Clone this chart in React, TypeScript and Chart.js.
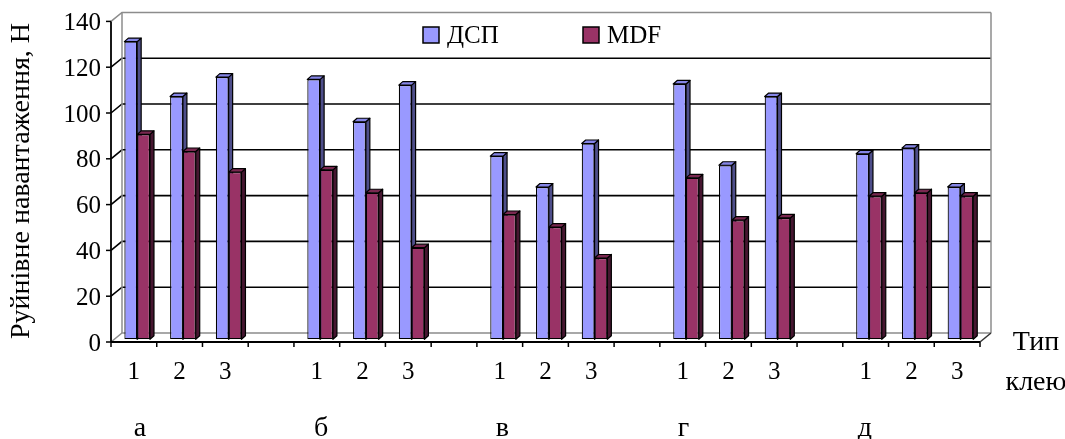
import React, { useEffect, useRef } from 'react';
import { Chart, registerables } from 'chart.js';

Chart.register(...registerables);

// ---------- data ----------
const categories = ['1', '2', '3', '', '1', '2', '3', '', '1', '2', '3', '', '1', '2', '3', '', '1', '2', '3'];
const groupLabels = ['а', 'б', 'в', 'г', 'д'];
const seriesNames = ['ДСП', 'MDF'];
const dspValues = [130, 106, 114.5, null, 113.5, 95, 111, null, 80, 66.5, 85.5, null, 111.5, 76, 106, null, 81, 83.5, 66.5];
const mdfValues = [89.5, 82, 73, null, 74, 64, 40, null, 54.5, 49, 35.5, null, 70.5, 52, 53, null, 62.5, 64, 62.5];
const yTicks = [0, 20, 40, 60, 80, 100, 120, 140];
const yTitle = 'Руйнівне навантаження, Н';
const xTitleLines = ['Тип', 'клею'];

// ---------- layout / style ----------
const W = 1065;
const H = 439;
const PLANE = { left: 114.3, right: 983.3, top: 18.7, bottom: 339.3 };
const FRONT = { dx: -3.3, dy: 2.7 };
const BACK = { dx: 7.7, dy: -6.3 };
const BAR_DEPTH = { dx: 4, dy: 3.5 };
const SERIF = '"Liberation Serif", "Times New Roman", serif';
const FONT_TICK = '25px ' + SERIF;
const FONT_CAT = '25px ' + SERIF;
const FONT_TITLE = '28px ' + SERIF;
const FONT_LEGEND = '25px ' + SERIF;
const FRONT_COLORS = ['#9999FF', '#993366'];
const SIDE_COLORS = ['#4E4E8A', '#461630'];
const TOP_COLORS = ['#8585E6', '#7A2850'];
const EDGE_GRAY = '#8C8C8C';
const LEGEND = { y: 27, box: 16, xs: [423, 583], textGap: 24 };

function line(ctx: CanvasRenderingContext2D, x1: number, y1: number, x2: number, y2: number) {
  ctx.beginPath();
  ctx.moveTo(x1, y1);
  ctx.lineTo(x2, y2);
  ctx.stroke();
}

function poly(ctx: CanvasRenderingContext2D, pts: number[][], fill: string) {
  ctx.beginPath();
  ctx.moveTo(pts[0][0], pts[0][1]);
  for (let i = 1; i < pts.length; i++) ctx.lineTo(pts[i][0], pts[i][1]);
  ctx.closePath();
  ctx.fillStyle = fill;
  ctx.fill();
  ctx.stroke();
}

const threeD = {
  id: 'threeD',
  beforeDatasetsDraw(chart: any) {
    const { ctx, chartArea: ca, scales } = chart;
    const ys = scales.y;
    const fl = ca.left + FRONT.dx;
    const fr = ca.right + FRONT.dx;
    const bl = ca.left + BACK.dx;
    const br = ca.right + BACK.dx;
    ctx.save();
    // walls & grid
    yTicks.forEach((v, i) => {
      const yp = ys.getPixelForValue(v);
      const fy = yp + FRONT.dy;
      const by = yp + BACK.dy;
      const edge = i === 0 || i === yTicks.length - 1;
      ctx.strokeStyle = edge ? EDGE_GRAY : '#000';
      ctx.lineWidth = edge ? 1.5 : 1.6;
      ctx.beginPath();
      ctx.moveTo(fl, fy);
      ctx.lineTo(bl, by);
      ctx.lineTo(br, by);
      ctx.stroke();
    });
    const topB = ys.getPixelForValue(yTicks[yTicks.length - 1]) + BACK.dy;
    const botB = ys.getPixelForValue(0) + BACK.dy;
    const botF = ys.getPixelForValue(0) + FRONT.dy;
    ctx.strokeStyle = EDGE_GRAY;
    ctx.lineWidth = 1.5;
    line(ctx, bl, topB, bl, botB);
    line(ctx, br, topB, br, botB);
    ctx.strokeStyle = '#333';
    line(ctx, fr, botF, br, botB);

    // bar side & top faces
    ctx.strokeStyle = '#000';
    ctx.lineWidth = 1.2;
    ctx.lineJoin = 'round';
    chart.data.datasets.forEach((ds: any, di: number) => {
      const meta = chart.getDatasetMeta(di);
      meta.data.forEach((el: any, i: number) => {
        if (ds.data[i] == null) return;
        const { x, y, base, width } = el.getProps(['x', 'y', 'base', 'width'], true);
        const l = x - width / 2;
        const r = x + width / 2;
        const dx = BAR_DEPTH.dx;
        const dy = BAR_DEPTH.dy;
        poly(ctx, [[r, y], [r + dx, y - dy], [r + dx, base - dy], [r, base]], SIDE_COLORS[di]);
        poly(ctx, [[l, y], [l + dx, y - dy], [r + dx, y - dy], [r, y]], TOP_COLORS[di]);
      });
    });
    ctx.restore();
  },
  afterDraw(chart: any) {
    const { ctx, chartArea: ca, scales } = chart;
    const ys = scales.y;
    const xs = scales.x;
    const fl = ca.left + FRONT.dx;
    const fr = ca.right + FRONT.dx;
    const fy0 = ys.getPixelForValue(0) + FRONT.dy;
    const fyTop = ys.getPixelForValue(yTicks[yTicks.length - 1]) + FRONT.dy;
    const slot = (ca.right - ca.left) / categories.length;
    ctx.save();
    ctx.strokeStyle = '#000';
    ctx.lineWidth = 1.8;
    line(ctx, fl, fyTop, fl, fy0);
    line(ctx, fl, fy0, fr, fy0);
    ctx.lineWidth = 1.5;
    // y ticks + labels
    ctx.font = FONT_TICK;
    ctx.fillStyle = '#000';
    ctx.textAlign = 'right';
    ctx.textBaseline = 'alphabetic';
    yTicks.forEach((v) => {
      const fy = ys.getPixelForValue(v) + FRONT.dy;
      line(ctx, fl - 5, fy, fl, fy);
      ctx.fillText(String(v), fl - 10, fy + 8.5);
    });
    // x ticks + labels
    for (let i = 0; i <= categories.length; i++) {
      const xb = ca.left + i * slot + FRONT.dx;
      line(ctx, xb, fy0, xb, fy0 + 5);
    }
    ctx.textAlign = 'center';
    ctx.font = FONT_CAT;
    categories.forEach((c, i) => {
      if (!c) return;
      const xc = xs.getPixelForValue(i) + FRONT.dx;
      ctx.fillText(c, xc, 379);
    });
    ctx.font = FONT_TITLE;
    groupLabels.forEach((g, gi) => {
      const xc = xs.getPixelForValue(gi * 4) + FRONT.dx + 6 - 1.7 * gi;
      ctx.fillText(g, xc, 436);
    });
    // x title
    ctx.fillText(xTitleLines[0], 1036, 350);
    ctx.fillText(xTitleLines[1], 1036, 390);
    // y title
    ctx.save();
    ctx.translate(22, 181);
    ctx.rotate(-Math.PI / 2);
    ctx.textAlign = 'center';
    ctx.textBaseline = 'middle';
    ctx.fillText(yTitle, 0, 0);
    ctx.restore();
    // legend
    ctx.font = FONT_LEGEND;
    ctx.textAlign = 'left';
    ctx.textBaseline = 'alphabetic';
    ctx.lineWidth = 1.5;
    seriesNames.forEach((name, i) => {
      const bx = LEGEND.xs[i];
      ctx.fillStyle = FRONT_COLORS[i];
      ctx.fillRect(bx, LEGEND.y, LEGEND.box, LEGEND.box);
      ctx.strokeStyle = '#000';
      ctx.strokeRect(bx, LEGEND.y, LEGEND.box, LEGEND.box);
      ctx.fillStyle = '#000';
      ctx.fillText(name, bx + LEGEND.textGap, LEGEND.y + 16);
    });
    ctx.restore();
  },
};

export default function App() {
  const ref = useRef<HTMLCanvasElement | null>(null);
  useEffect(() => {
    if (!ref.current) return;
    const chart = new Chart(ref.current, {
      type: 'bar',
      data: {
        labels: categories,
        datasets: [
          {
            label: seriesNames[0],
            data: dspValues,
            backgroundColor: FRONT_COLORS[0],
            borderColor: '#000',
            borderWidth: 1.2,
            borderSkipped: false,
            categoryPercentage: 0.56,
            barPercentage: 1,
          },
          {
            label: seriesNames[1],
            data: mdfValues,
            backgroundColor: FRONT_COLORS[1],
            borderColor: '#000',
            borderWidth: 1.2,
            borderSkipped: false,
            categoryPercentage: 0.56,
            barPercentage: 1,
          },
        ],
      } as any,
      options: {
        responsive: false,
        animation: false,
        events: [],
        layout: {
          padding: { left: PLANE.left, right: W - PLANE.right, top: PLANE.top, bottom: H - PLANE.bottom },
        },
        scales: {
          x: { display: false },
          y: { display: false, min: 0, max: 140, ticks: { stepSize: 20 } },
        },
        plugins: { legend: { display: false }, tooltip: { enabled: false } },
      },
      plugins: [threeD],
    });
    return () => chart.destroy();
  }, []);
  return (
    <div style={{ position: 'absolute', left: 0, top: 0, width: W, height: H, background: '#fff' }}>
      <canvas ref={ref} width={W} height={H} style={{ display: 'block', width: W, height: H }} />
    </div>
  );
}
